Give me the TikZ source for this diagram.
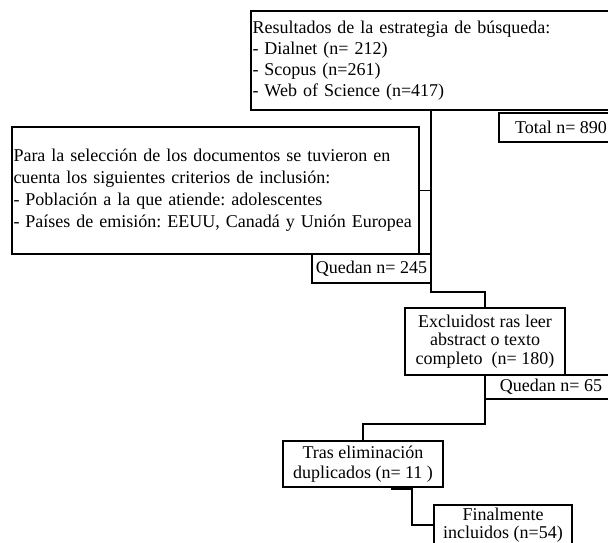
\documentclass[tikz,border=0pt]{standalone}
\usepackage{fontspec}
\setmainfont{Liberation Serif}
\frenchspacing
\begin{document}
\begin{tikzpicture}[x=1pt,y=-1pt,line width=1.4pt,
  box/.style={draw,line width=1.4pt,inner ysep=0pt,inner xsep=1pt,outer sep=0pt,anchor=north west,
    font=\fontsize{18}{21}\selectfont\frenchspacing},
  tight/.style={font=\fontsize{18}{18.5}\selectfont\frenchspacing},
  conn/.style={draw,line width=1.4pt}]
\useasboundingbox (0,0) rectangle (608,543);
\clip (0,0) rectangle (608,543);

\node[box,minimum width=372pt,minimum height=99pt,text width=369pt,align=left] (res) at (251,11)
  {Resultados de la estrategia de búsqueda:\\- Dialnet (n= 212)\\- Scopus (n=261)\\- Web of Science (n=417)};
\node[box,minimum width=124pt,minimum height=29pt] (tot) at (499,113) {Total n= 890};
\node[box,minimum width=407pt,minimum height=127pt,text width=404pt,align=left,
  font=\fontsize{18}{22}\selectfont\frenchspacing] (crit) at (12,127)
  {\mbox{Para la selección de los documentos se tuvieron en}\\\mbox{cuenta los siguientes criterios de inclusión:}\\\mbox{- Población a la que atiende: adolescentes}\\\mbox{- Países de emisión: EEUU, Canadá y Unión Europea}};
\node[box,minimum width=119pt,minimum height=29pt,inner xsep=0pt] (q1) at (312,254) {Quedan n= 245};
\node[box,tight,minimum width=160pt,minimum height=67pt,align=center] (excl) at (405,308)
  {Excluidost ras leer\\abstract o texto\\completo\ \ (n= 180)};
\node[box,minimum width=132pt,minimum height=24pt] (q2) at (485,375) {Quedan n= 65};
\node[box,minimum width=160pt,minimum height=46pt,align=center,font=\fontsize{18}{20}\selectfont] (tras) at (283,441)
  {Tras eliminación\\duplicados (n= 11 )};
\node[box,tight,minimum width=138pt,minimum height=40pt,align=center] (fin) at (434,505)
  {Finalmente\\incluidos (n=54)};

\coordinate (j1) at (431,292);
\draw[conn] (res.south -| j1) -- (j1) -| (excl.north);
\draw[conn] (crit.east) -- (crit.east -| j1);
\draw[conn] (excl.south) -- ++(0,49) -| (tras.north);
\coordinate (t1) at (391,488);
\draw[line width=3.5pt] (t1) -- ++(21,0) coordinate (t2);
\draw[conn] (t2) |- (fin.west);
\end{tikzpicture}
\end{document}
